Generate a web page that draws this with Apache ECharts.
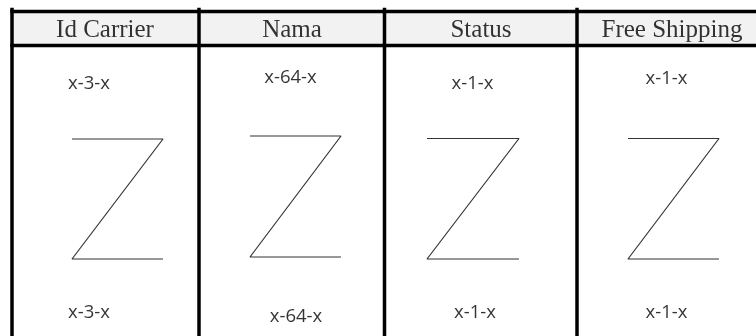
<!DOCTYPE html>
<html>

<head>
    <meta charset="utf-8" />
    <script src="https://cdn.jsdelivr.net/npm/echarts@6.0.0/dist/echarts.min.js"></script>
    <title>Carrier table</title>
    <style>
        html, body { margin: 0; padding: 0; background: #fff; }
        #main { width: 756px; height: 336px; }
    </style>
</head>

<body>
    <div id="main"></div>
    <script type="text/javascript">
        // table columns and cell texts
        var columns = ['Id Carrier', 'Nama', 'Status', 'Free Shipping'];
        var headerX = [105, 292, 481, 672];
        var topLabels = ['x-3-x', 'x-64-x', 'x-1-x', 'x-1-x'];
        var topX = [89, 290.5, 472.5, 666.5];
        var topY = [83.5, 77.5, 84, 79];
        var bottomLabels = ['x-3-x', 'x-64-x', 'x-1-x', 'x-1-x'];
        var bottomX = [89, 296, 475, 666.5];
        var bottomY = [312.5, 316.5, 312.5, 313];
        // the Z marks, one per column
        var zLeft = [72, 250, 427, 628];
        var zRight = [163, 341, 519, 719];
        var zTop = [139, 136, 138.5, 138.5];
        var zBottom = [259, 257, 259, 259];
        // table rules
        var colEdges = [12, 199, 384.5, 577];
        var rowEdges = [11.5, 45.5];

        var chart = echarts.init(document.getElementById('main'));

        var series = [];

        // header background
        series.push({
            type: 'line',
            data: [],
            silent: true,
            markArea: {
                silent: true,
                itemStyle: { color: '#f2f2f2' },
                data: [[{ coord: [colEdges[0], rowEdges[0]] }, { coord: [756, rowEdges[1]] }]]
            }
        });

        // Z shapes
        for (var i = 0; i < columns.length; i++) {
            series.push({
                type: 'line',
                symbol: 'none',
                silent: true,
                lineStyle: { color: '#333', width: 1.2 },
                data: [
                    [zLeft[i], zTop[i]],
                    [zRight[i], zTop[i]],
                    [zLeft[i], zBottom[i]],
                    [zRight[i], zBottom[i]]
                ]
            });
        }

        // horizontal rules
        rowEdges.forEach(function (y) {
            series.push({
                type: 'line',
                symbol: 'none',
                silent: true,
                lineStyle: { color: '#000', width: 3.5, cap: 'square' },
                data: [[colEdges[0], y], [756, y]]
            });
        });
        // vertical rules
        colEdges.forEach(function (x) {
            series.push({
                type: 'line',
                symbol: 'none',
                silent: true,
                lineStyle: { color: '#000', width: 3.5, cap: 'square' },
                data: [[x, 9.5], [x, 336]]
            });
        });

        // header texts
        series.push({
            type: 'scatter',
            symbolSize: 0,
            silent: true,
            label: {
                show: true,
                position: 'inside',
                formatter: '{b}',
                color: '#000',
                fontFamily: 'Liberation Serif',
                fontSize: 25
            },
            data: columns.map(function (c, i) {
                return { name: c, value: [headerX[i], 30] };
            })
        });

        // cell texts
        function cellSeries(labels, xs, ys) {
            return {
                type: 'scatter',
                symbolSize: 0,
                silent: true,
                label: {
                    show: true,
                    position: 'inside',
                    formatter: '{b}',
                    color: '#000',
                    fontFamily: 'Open Sans',
                    fontSize: 18.5
                },
                data: labels.map(function (t, i) {
                    return { name: t, value: [xs[i], ys[i]] };
                })
            };
        }
        series.push(cellSeries(topLabels, topX, topY));
        series.push(cellSeries(bottomLabels, bottomX, bottomY));

        var option = {
            animation: false,
            grid: { left: 0, right: 0, top: 0, bottom: 0 },
            xAxis: {
                type: 'value',
                min: 0,
                max: 756,
                show: false
            },
            yAxis: {
                type: 'value',
                min: 0,
                max: 336,
                inverse: true,
                show: false
            },
            series: series
        };
        chart.setOption(option);
    </script>
</body>

</html>
